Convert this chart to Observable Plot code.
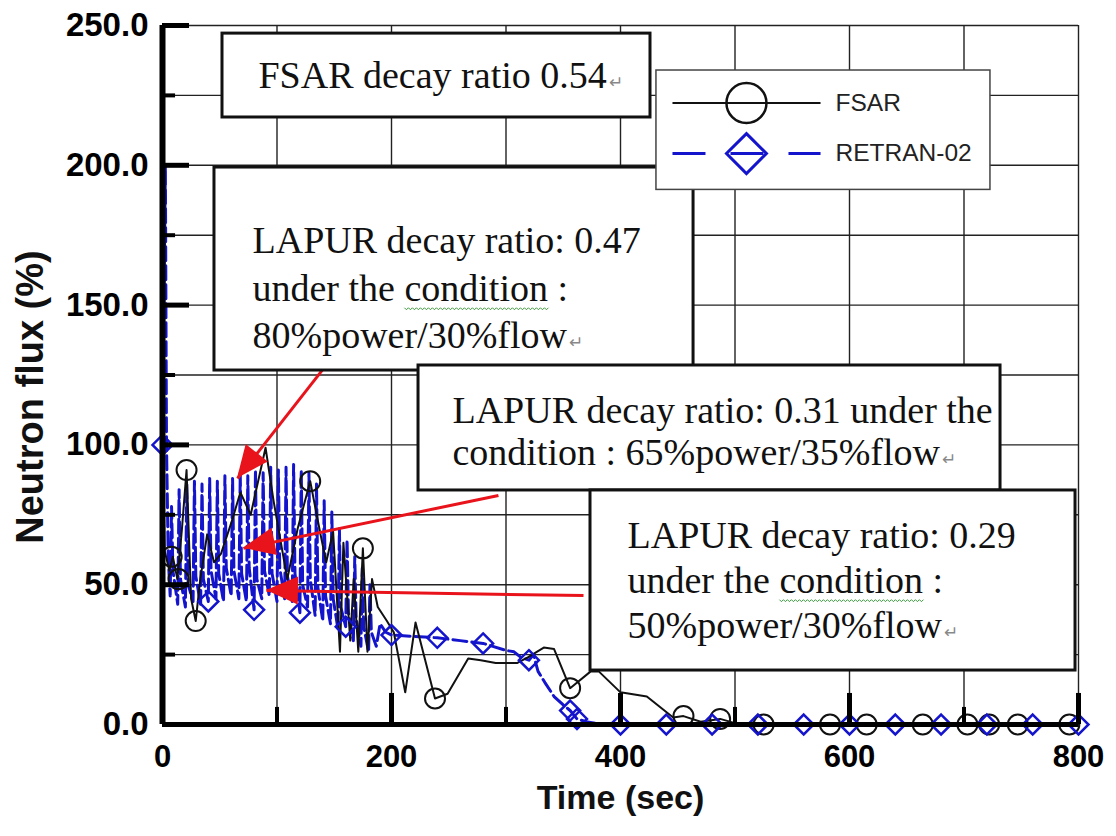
<!DOCTYPE html>
<html><head><meta charset="utf-8">
<script src="https://cdn.jsdelivr.net/npm/d3@7"></script>
<script src="https://cdn.jsdelivr.net/npm/@observablehq/plot@0.6"></script>
<style>body{margin:0;background:#fff} #chart{width:1116px;height:836px}</style>
</head><body><div id="chart"></div>
<script>
// ---------- data ----------
const fsarT = [0,2,6,9,13,17,21,25,29,33,39,45,51,60,68,77,90,97,109,118,129,138,143,149,155,158,164,167,171,175,179,183,188,196,202,212,221,238,249,267,278,291,310,319,333,342,356,374,381,400,423,446,455,470,487,500,525,583,615,664,703,722,747,792,800];
const fsarV = [100,62,55,60,52,70,91,45,37,52,68,58,61,72,83,75,99,80,52,70,87,68,58,69,26,65,30,52,26,63,26,52,42,37,33,11.5,36.5,9.3,11,23.6,23,22,22,24,27.5,27,13,19,19,11.5,10,2.5,3,1,2,0.5,0,0,0,0,0,0,0,0,0];
const fsarMarkT = [8,14,21,29,129,175,238,356,455,487,525,583,615,664,703,722,747,792];
const fsarMarkV = [60,52,91,37,87,63,9.3,13,3,2,0,0,0,0,0,0,0,0];

const retranT = [0,2.5,3.5,5,
  6.7,7.9,9.1, 13.3,14.5,15.7, 20,21.2,22.4, 26.7,27.9,29.1, 33.3,34.5,35.7,
  40,41.2,42.4, 46.7,47.9,49.1, 53.3,54.5,55.7, 60,61.2,62.4, 66.7,67.9,69.1,
  73.3,74.5,75.7, 80,81.2,82.4, 86.7,87.9,89.1, 93.3,94.5,95.7, 100,101.2,102.4,
  106.7,107.9,109.1, 113.3,114.5,115.7, 120,121.2,122.4, 126.7,127.9,129.1, 133.3,134.5,135.7,
  140,141.2,142.4, 146.7,147.9,149.1, 153.3,154.5,155.7, 160,161.2,162.4, 166.7,167.9,169.1,
  173.3,174.5,175.7, 180,181.2,182.4,
  186.7,190,195,200,220,240,260,280,300,307,313,320,324,328,334,342,350,356,362,370,380,400,800];
const retranV = [100,200,100,60,
  46,78,55, 43,84,52, 42,86,50, 44,87,53, 43,86,52,
  44,88,55, 45,87,54, 44,89,56, 46,88,55, 45,90,54,
  44,89,56, 41,91,52, 45,90,55, 46,92,54, 44,91,56,
  45,92,53, 44,93,54, 40,91,50, 42,90,52, 39,86,49,
  37,80,46, 36,76,45, 34,70,42, 35,66,40, 30,60,38,
  28,56,35, 26,50,33,
  28,36,33,32,31.5,31,30,29,26.5,26,24,23,25,19,15,10,7,5,2,1,0.3,0,0];
const retranMarkT = [0,40,80,120,160,200,240,280,320,356,362,400,440,480,520,560,600,640,680,720,760,800];
const retranMarkV = [100,44,41,40,35,32,31,29,23,5,2,0,0,0,0,0,0,0,0,0,0,0];

const seriesNames = ["FSAR", "RETRAN-02"];
const xGrid = [100,200,300,400,500,600,700,800];
const yGrid = [25,50,75,100,125,150,175,200,225,250];
const xTicks = [0,200,400,600,800];
const yTicks = [0,50,100,150,200,250];
const xMinorTicks = [100,300,500,700];
const yMinorTicks = [25,75,125,175,225];

const annoBoxes = [
  {t1:52.4, t2:426.2, v1:217.1, v2:247.1},
  {t1:45.4, t2:463.8, v1:126.6, v2:199.2},
  {t1:223.6, t2:731.9, v1:83.7, v2:128.4},
  {t1:373.8, t2:797.4, v1:19.3, v2:83.7}
];
const annoLines = [
  {t:83.8, v:232.1, text:"FSAR decay ratio 0.54↵"},
  {t:78.6, v:173.1, text:"LAPUR decay ratio: 0.47"},
  {t:78.6, v:155.9, text:"under the condition :"},
  {t:78.6, v:139.1, text:"80%power/30%flow↵"},
  {t:253.2, v:112.3, text:"LAPUR decay ratio: 0.31 under the"},
  {t:253.2, v:97.3, text:"condition : 65%power/35%flow↵"},
  {t:406.1, v:67.6, text:"LAPUR decay ratio: 0.29"},
  {t:406.1, v:51.5, text:"under the condition :"},
  {t:406.1, v:35.4, text:"50%power/30%flow↵"}
];
const arrows = [
  {t1:140.6, v1:127.3, t2:65.5, v2:88},
  {t1:293.4, v1:81.9, t2:70.7, v2:63},
  {t1:367.7, v1:46.1, t2:90.8, v2:47.9}
];
const legendBox = [{t1:431.4, t2:723.1, v1:191.2, v2:233.9}];
const legendRowsV = [222.3, 204.2];

// ---------- build ----------
const fsar = fsarT.map((t,i)=>({t, v:fsarV[i]}));
const fsarMarks = fsarMarkT.map((t,i)=>({t, v:fsarMarkV[i]}));
const retran = retranT.map((t,i)=>({t, v:retranV[i]}));
const retranMarks = retranMarkT.map((t,i)=>({t, v:retranMarkV[i]}));
const BLUE = "#1414cc";
const RED = "#e8131b";
const serif = "'Liberation Serif','Times New Roman',serif";
const sans = "'Liberation Sans',Arial,sans-serif";

const plot = Plot.plot({
  width: 1116, height: 836,
  marginLeft: 162, marginRight: 38, marginTop: 25, marginBottom: 112,
  x: {domain: [0, 800], label: null},
  y: {domain: [0, 250], label: null},
  style: {fontFamily: sans, background: "#fff", overflow: "visible"},
  marks: [
    Plot.ruleY(yGrid, {stroke: "#222", strokeWidth: 1.4}),
    Plot.ruleX(xGrid, {stroke: "#222", strokeWidth: 1.4}),
    Plot.line(retran, {x: "t", y: "v", stroke: BLUE, strokeWidth: 3, strokeDasharray: "14,5"}),
    Plot.line(fsar, {x: "t", y: "v", stroke: "#111", strokeWidth: 2}),
    Plot.dot(fsarMarks, {x: "t", y: "v", r: 10, stroke: "#111", strokeWidth: 2, fill: "none"}),
    Plot.dot(retranMarks, {x: "t", y: "v", r: 9, symbol: "diamond2", stroke: BLUE, strokeWidth: 2.5, fill: "none"}),
    Plot.ruleX([0], {stroke: "#000", strokeWidth: 6}),
    Plot.ruleY([0], {stroke: "#000", strokeWidth: 5}),
    Plot.ruleY(yTicks, {x1: 0, x2: 23.6, stroke: "#000", strokeWidth: 5}),
    Plot.ruleY(yMinorTicks, {x1: 0, x2: 11.4, stroke: "#000", strokeWidth: 4}),
    Plot.ruleX(xTicks, {y1: 0, y2: 11.1, stroke: "#000", strokeWidth: 5}),
    Plot.ruleX(xMinorTicks, {y1: 0, y2: 6.1, stroke: "#000", strokeWidth: 4}),
    Plot.axisY({ticks: yTicks, tickFormat: d => d.toFixed(1), tickSize: 0, tickPadding: 14, fontSize: 33, fontWeight: "bold", label: null}),
    Plot.axisX({ticks: xTicks, tickFormat: d => String(d), tickSize: 0, tickPadding: 20, fontSize: 31, fontWeight: "bold", label: null}),
    Plot.text(["Time (sec)"], {frameAnchor: "bottom", dy: 84, fontSize: 34, fontWeight: "bold", fill: "#111"}),
    Plot.text(["Neutron flux (%)"], {frameAnchor: "left", textAnchor: "middle", rotate: -90, dx: -132, dy: 22, fontSize: 38, fontWeight: "bold", fill: "#111"}),
    Plot.link(arrows, {x1: "t1", y1: "v1", x2: "t2", y2: "v2", stroke: RED, strokeWidth: 3}),
    Plot.rect(annoBoxes, {x1: "t1", x2: "t2", y1: "v1", y2: "v2", fill: "#fff", stroke: "#111", strokeWidth: 3}),
    Plot.text(annoLines, {x: "t", y: "v", text: "text", textAnchor: "start", fontFamily: serif, fontSize: 38, fill: "#111"}),
    Plot.rect(legendBox, {x1: "t1", x2: "t2", y1: "v1", y2: "v2", fill: "#fff", stroke: "#444", strokeWidth: 1.5}),
    Plot.link([legendRowsV[0]], {x1: 445.4, x2: 574.7, y1: d => d, y2: d => d, stroke: "#111", strokeWidth: 2}),
    Plot.link([legendRowsV[1]], {x1: 445.4, x2: 574.7, y1: d => d, y2: d => d, stroke: BLUE, strokeWidth: 3, strokeDasharray: "33,25"}),
    Plot.dot([legendRowsV[0]], {x: 510, y: d => d, r: 20, stroke: "#111", strokeWidth: 2.5, fill: "none"}),
    Plot.dot([legendRowsV[1]], {x: 510, y: d => d, r: 18, symbol: "diamond2", stroke: BLUE, strokeWidth: 3, fill: "none"}),
    Plot.text(seriesNames, {x: 587.8, y: (d, i) => legendRowsV[i], textAnchor: "start", fontSize: 24.5, fill: "#222"})
  ]
});
document.getElementById("chart").append(plot);

// ---------- decorations using the plot's scales ----------
const sx = plot.scale("x"), sy = plot.scale("y");
const svg = d3.select(plot);
for (const a of arrows) {
  const x1 = sx.apply(a.t1), y1 = sy.apply(a.v1), x2 = sx.apply(a.t2), y2 = sy.apply(a.v2);
  const dx = x2 - x1, dy = y2 - y1, len = Math.hypot(dx, dy);
  const ux = dx / len, uy = dy / len, L = 32, W = 14;
  const bx = x2 - ux * L, by = y2 - uy * L;
  svg.append("polygon")
    .attr("points", `${x2},${y2} ${bx - uy * W},${by + ux * W} ${bx + uy * W},${by - ux * W}`)
    .attr("fill", RED);
}
plot.querySelectorAll("text").forEach(el => {
  const txt = el.textContent;
  if (txt.startsWith("under the condition")) {
    const idx = txt.indexOf("condition");
    const p0 = el.getStartPositionOfChar(idx), p1 = el.getEndPositionOfChar(idx + 8);
    let d = `M${p0.x},${p0.y + 7}`;
    for (let x = p0.x, k = 0; x < p1.x; x += 2, k++) d += ` L${x + 2},${p0.y + 7 + (k % 2 ? 0 : 2)}`;
    const path = document.createElementNS("http://www.w3.org/2000/svg", "path");
    path.setAttribute("d", d);
    path.setAttribute("fill", "none");
    path.setAttribute("stroke", "#3c9a3c");
    path.setAttribute("stroke-width", "1");
    if (el.getAttribute("transform")) path.setAttribute("transform", el.getAttribute("transform"));
    el.parentNode.appendChild(path);
  }
  if (txt.endsWith("↵")) {
    el.textContent = txt.slice(0, -1);
    const ts = document.createElementNS("http://www.w3.org/2000/svg", "tspan");
    ts.textContent = "↵";
    ts.setAttribute("font-size", "17");
    ts.setAttribute("fill", "#888");
    ts.setAttribute("dx", "2");
    el.appendChild(ts);
  }
});
</script></body></html>
